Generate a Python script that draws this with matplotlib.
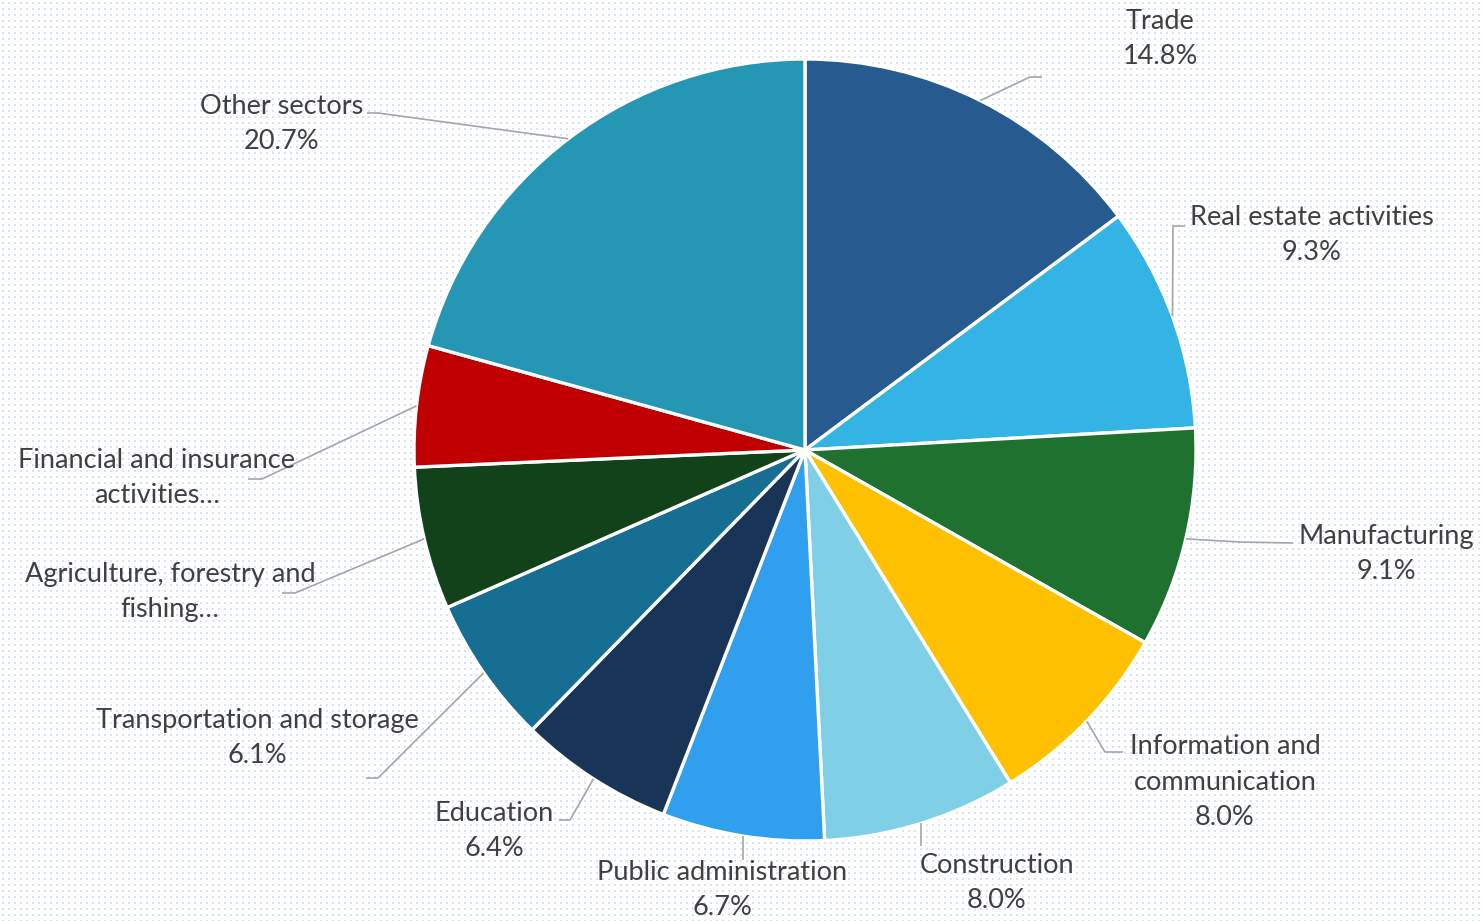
import numpy as np
import matplotlib
matplotlib.use("Agg")
import matplotlib.pyplot as plt

# ---- data ----
sectors = ["Trade", "Real estate activities", "Manufacturing",
           "Information and\ncommunication", "Construction",
           "Public administration", "Education",
           "Transportation and storage", "Agriculture, forestry and\nfishing…",
           "Financial and insurance\nactivities…", "Other sectors"]
shares = [14.8, 9.3, 9.1, 8.0, 8.0, 6.7, 6.4, 6.1, 5.9, 5.0, 20.7]
show_pct = [True, True, True, True, True, True, True, True, False, False, True]
colors = ["#275A8F", "#33B4E5", "#1F7130", "#FFC000", "#7FD0E6",
          "#2F9FEE", "#183558", "#166F93", "#12421A", "#C00000", "#2596B4"]

W, H = 1483, 921
fig = plt.figure(figsize=(W / 100, H / 100), dpi=100)

# dotted background
bg = np.ones((H, W, 3))
dot = np.array([216, 228, 243]) / 255.0
for yy in range(2, H, 6):
    for dy in range(2):
        if yy + dy < H:
            row = bg[yy + dy]
            for dx in range(2):
                row[2 + dx::6] = dot
fig.figimage(bg, xo=0, yo=0, zorder=-10)

ax = fig.add_axes([0, 0, 1, 1])
ax.set_zorder(5)
ax.patch.set_alpha(0)

cx, cy, R = 805, H - 450, 391
wedges, _ = ax.pie(shares, colors=colors, startangle=90, counterclock=False,
                   center=(cx, cy), radius=R,
                   wedgeprops=dict(edgecolor="white", linewidth=2.4))
ax.set_xlim(0, W)
ax.set_ylim(0, H)
ax.set_aspect("equal")
ax.axis("off")

# label layout: (text center x, text center y in px from top,
#                elbow x (None = straight down), elbow y, end x, end y)
layout = [
    (1160, 39, 1030, 77, 1042, 77),
    (1312, 235, 1173, 226, 1185, 226),
    (1386, 554, 1240, 542, 1293, 543),
    (1225, 782, 1105, 752, 1123, 752),
    (997, 883, None, 846, None, 846),
    (722, 890, None, 860, None, 860),
    (494, 831, 570, 820, 559, 820),
    (257, 738, 378, 778, 366, 778),
    (170, 592, 295, 593, 282, 593),
    (157, 478, 262, 479, 248, 479),
    (282, 124, 378, 113, 367, 113),
]

text_kw = dict(family=["Lato", "DejaVu Sans"], fontsize=19.5, color="#404040",
               ha="center", va="center", linespacing=1.53)
line_kw = dict(color="#A6A6A6", linewidth=1.2, solid_capstyle="butt")

for w, name, val, pct, lay in zip(wedges, sectors, shares, show_pct, layout):
    tx, ty, ex, ey, fx, fy = lay
    ang = np.deg2rad((w.theta1 + w.theta2) / 2)
    sx = cx + R * np.cos(ang)
    sy = cy + R * np.sin(ang)
    ex = sx if ex is None else ex
    fx = sx if fx is None else fx
    ax.plot([sx, ex, fx], [sy, H - ey, H - fy], **line_kw, zorder=1)
    label = f"{name}\n{val:.1f}%" if pct else name
    ax.text(tx, H - ty, label, **text_kw, zorder=3)

fig.savefig("out.png", dpi=100)
